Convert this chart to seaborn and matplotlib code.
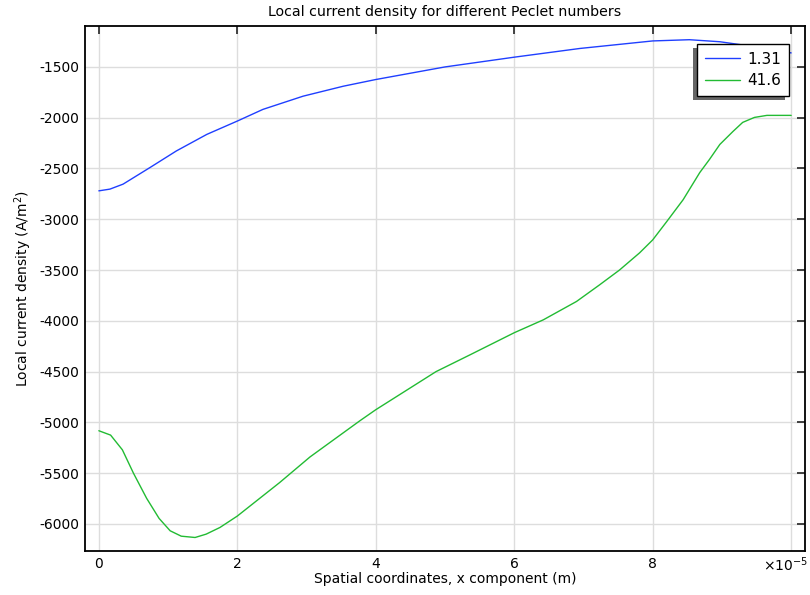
import matplotlib
matplotlib.use("Agg")
import matplotlib.pyplot as plt
import seaborn as sns
import pandas as pd
from matplotlib.patches import Rectangle

# ---- data (x in units of 1e-5 m) ----
blue_label = "1.31"
blue_x = [0, 0.16, 0.35, 0.74, 1.12, 1.56, 2.0, 2.37, 2.95, 3.53, 4.0, 5.0, 6.0,
          6.95, 8.0, 8.53, 8.97, 9.26, 9.6, 10.0]
blue_y = [-2720, -2703, -2654, -2490, -2327, -2164, -2033, -1918, -1788, -1690,
          -1624, -1500, -1404, -1318, -1244, -1232, -1252, -1280, -1318, -1362]

green_label = "41.6"
green_x = [0, 0.17, 0.34, 0.50, 0.69, 0.87, 1.03, 1.19, 1.39, 1.55, 1.75, 2.0, 2.61,
           3.05, 3.77, 4.0, 4.87, 5.36, 6.0, 6.42, 6.9, 7.23, 7.52, 7.81, 8.0, 8.2,
           8.44, 8.68, 8.82, 8.97, 9.16, 9.3, 9.47, 9.65, 10.0]
green_y = [-5082, -5125, -5270, -5500, -5747, -5945, -6067, -6120, -6133, -6100,
           -6034, -5922, -5593, -5340, -4984, -4875, -4500, -4335, -4117, -3990,
           -3809, -3647, -3500, -3331, -3203, -3025, -2807, -2540, -2411, -2263,
           -2135, -2046, -1997, -1977, -1977]

x_ticks = [0, 2, 4, 6, 8, 10]
x_ticklabels = ["0", "2", "4", "6", "8", ""]
y_ticks = list(range(-6000, -1499, 500))

title = "Local current density for different Peclet numbers"
xlabel = "Spatial coordinates, x component (m)"
ylabel = "Local current density (A/m$^2$)"
x_multiplier = r"$\times10^{-5}$"
colors = ["#1f3fff", "#22bb33"]

df = pd.concat([
    pd.DataFrame({"x": blue_x, "y": blue_y, "series": blue_label}),
    pd.DataFrame({"x": green_x, "y": green_y, "series": green_label}),
], ignore_index=True)

sns.set_theme(style="white")
plt.rcParams["font.family"] = ["DejaVu Sans"]
plt.rcParams["axes.unicode_minus"] = False
plt.rcParams["mathtext.fontset"] = "dejavusans"
plt.rcParams["text.color"] = "black"
plt.rcParams["axes.labelcolor"] = "black"
plt.rcParams["xtick.labelcolor"] = "black"
plt.rcParams["ytick.labelcolor"] = "black"

fig = plt.figure(figsize=(8.1, 5.95), dpi=100)
ax = fig.add_axes([85 / 810, 44 / 595, 720 / 810, 525 / 595])

sns.lineplot(data=df, x="x", y="y", hue="series", palette=colors, ax=ax,
             linewidth=1.0, sort=False, estimator=None)

ax.set_xlim(-0.2, 10.2)
ax.set_ylim(-6266, -1097)
ax.set_xticks(x_ticks)
ax.set_xticklabels(x_ticklabels)
ax.set_yticks(y_ticks)
ax.set_yticklabels([str(v) for v in y_ticks])
ax.grid(True, color="#dddddd", linewidth=1.0)
ax.set_axisbelow(True)
ax.tick_params(direction="in", length=6, width=1.3, color="#333333",
               top=True, right=True, labelsize=10, labelcolor="black", pad=4)
for s in ax.spines.values():
    s.set_color("black")
    s.set_linewidth(1.3)

ax.set_title(title, fontsize=10.2, pad=7, color="black")
ax.set_xlabel(xlabel, fontsize=10, labelpad=1, color="black")
ax.set_ylabel(ylabel, fontsize=10, labelpad=4, color="black")
ax.annotate(x_multiplier, xy=(1, 0), xycoords="axes fraction",
            xytext=(2, -3.5), textcoords="offset points", ha="right", va="top",
            fontsize=10, color="black")

leg = ax.legend(loc="upper right", bbox_to_anchor=(0.9778, 0.9657), borderaxespad=0,
                frameon=True, fancybox=False, edgecolor="black", framealpha=1,
                fontsize=11, handlelength=2.3, handletextpad=0.5, borderpad=0.5,
                labelspacing=0.42, title=None)
leg.get_frame().set_linewidth(1.0)
leg.set_zorder(10)
for t in leg.get_texts():
    t.set_color("black")

fig.canvas.draw()
bb = leg.get_window_extent().transformed(fig.transFigure.inverted())
dx = 4 / 810
dy = 4 / 595
shadow = Rectangle((bb.x0 - dx, bb.y0 - dy), bb.width, bb.height,
                   transform=fig.transFigure, facecolor="#666666", edgecolor="none",
                   zorder=9)
shadow.set_clip_on(False)
ax.add_artist(shadow)

fig.savefig("out.png", dpi=100)
